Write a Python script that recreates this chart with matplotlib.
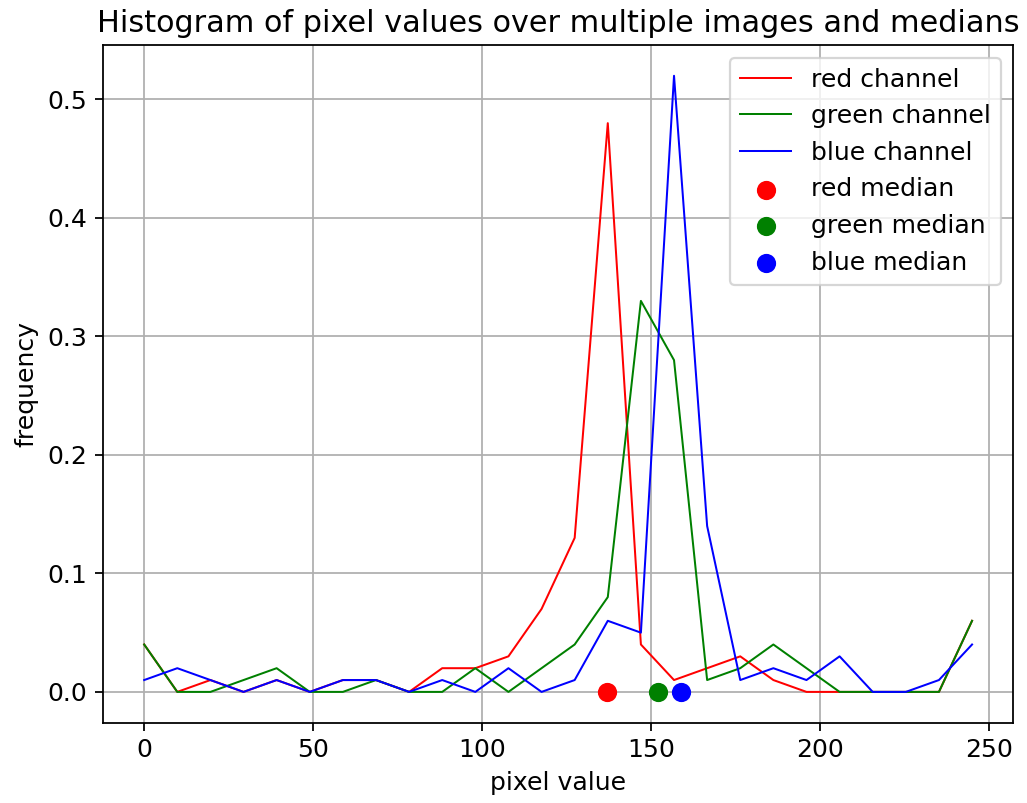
import matplotlib
matplotlib.use("Agg")
import matplotlib.pyplot as plt

# left edges of the 26 histogram bins
pixel_bins = [0.0, 9.8, 19.6, 29.4, 39.2, 49.0, 58.8, 68.6, 78.4, 88.2, 98.0, 107.8, 117.6,
              127.4, 137.2, 147.0, 156.8, 166.6, 176.4, 186.2, 196.0, 205.8, 215.6, 225.4,
              235.2, 245.0]

red_freq = [0.04, 0.0, 0.01, 0.0, 0.01, 0.0, 0.01, 0.01, 0.0, 0.02, 0.02, 0.03, 0.07,
            0.13, 0.48, 0.04, 0.01, 0.02, 0.03, 0.01, 0.0, 0.0, 0.0, 0.0, 0.0, 0.06]
green_freq = [0.04, 0.0, 0.0, 0.01, 0.02, 0.0, 0.0, 0.01, 0.0, 0.0, 0.02, 0.0, 0.02,
              0.04, 0.08, 0.33, 0.28, 0.01, 0.02, 0.04, 0.02, 0.0, 0.0, 0.0, 0.0, 0.06]
blue_freq = [0.01, 0.02, 0.01, 0.0, 0.01, 0.0, 0.01, 0.01, 0.0, 0.01, 0.0, 0.02, 0.0,
             0.01, 0.06, 0.05, 0.52, 0.14, 0.01, 0.02, 0.01, 0.03, 0.0, 0.0, 0.01, 0.04]

medians = {"red": 137, "green": 152, "blue": 159}

plt.rcParams["font.size"] = 11.3
plt.rcParams["axes.titlesize"] = 13.6

fig, ax = plt.subplots(figsize=(6.4, 5.0), dpi=160.6)
fig.subplots_adjust(left=0.1, right=0.986, top=0.944, bottom=0.1)

ax.plot(pixel_bins, red_freq, color="r", lw=0.9, label="red channel")
ax.plot(pixel_bins, green_freq, color="g", lw=0.9, label="green channel")
ax.plot(pixel_bins, blue_freq, color="b", lw=0.9, label="blue channel")
for name, c in zip(["red", "green", "blue"], ["r", "g", "b"]):
    ax.scatter([medians[name]], [0], color=c, s=58, label=f"{name} median", zorder=3)

ax.set_title("Histogram of pixel values over multiple images and medians")
ax.set_xlabel("pixel value")
ax.set_ylabel("frequency")
ax.grid(True)
ax.legend(loc="upper right")

fig.savefig("out.png")
